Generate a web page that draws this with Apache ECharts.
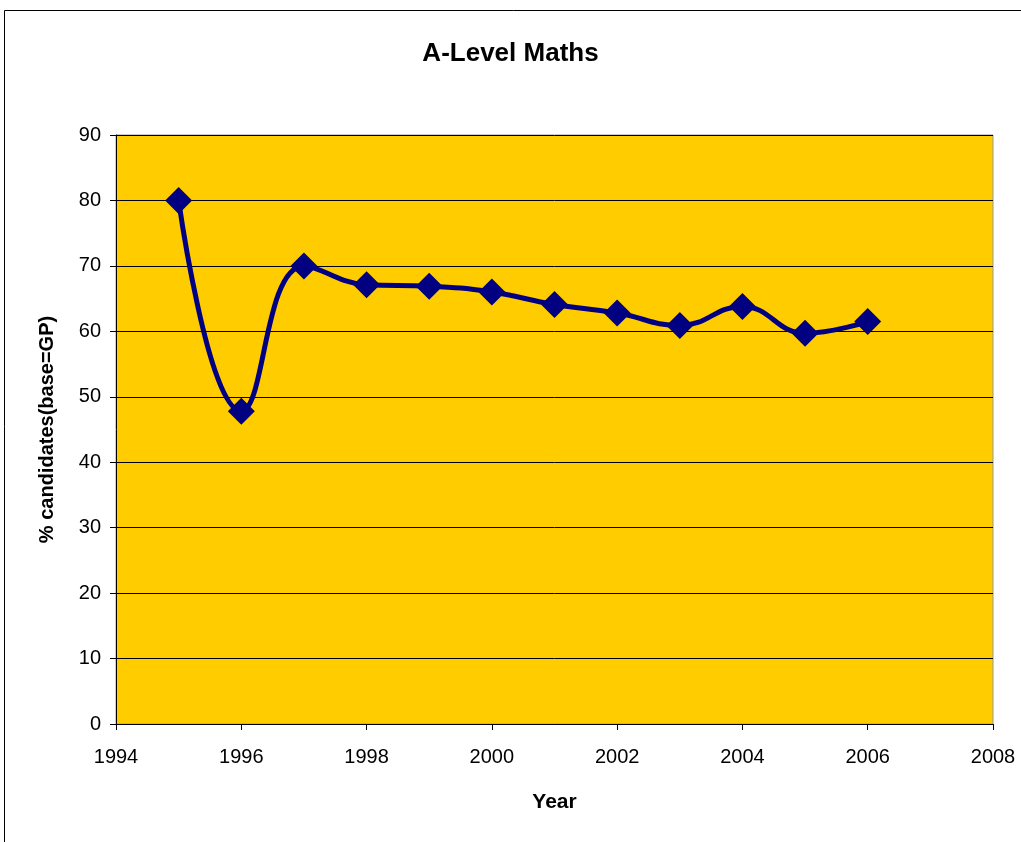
<!DOCTYPE html>
<html>
<head>
<meta charset="utf-8">
<script src="https://cdn.jsdelivr.net/npm/echarts@6/dist/echarts.min.js"></script>
<style>
  html, body { margin: 0; padding: 0; background: #fff; }
  #chart { width: 1021px; height: 842px; }
</style>
</head>
<body>
<div id="chart"></div>
<script>
// years and % of candidates
var years = [1995, 1996, 1997, 1998, 1999, 2000, 2001, 2002, 2003, 2004, 2005, 2006];
var percents = [80, 47.8, 70, 67.1, 66.9, 66, 64.1, 62.8, 60.9, 63.8, 59.7, 61.5];

var fontFamily = '"Liberation Sans", Arial, sans-serif';

var chart = echarts.init(document.getElementById('chart'));

var points = [];
for (var i = 0; i < years.length; i++) {
    points.push([years[i], percents[i]]);
}

var option = {
    animation: false,
    backgroundColor: '#fff',
    // outer frame of the chart area
    graphic: [{
        type: 'rect',
        shape: { x: 4.5, y: 10.5, width: 1100, height: 900 },
        style: { fill: 'none', stroke: '#000', lineWidth: 1 },
        silent: true
    }],
    title: {
        text: 'A-Level Maths',
        left: 'center',
        top: 36,
        textStyle: { fontFamily: fontFamily, fontSize: 26, fontWeight: 'bold', color: '#000' }
    },
    grid: {
        left: 116,
        right: 28,
        top: 135,
        bottom: 118,
        show: true,
        backgroundColor: '#FFCC00',
        borderColor: '#999',
        borderWidth: 1
    },
    xAxis: {
        type: 'value',
        min: 1994,
        max: 2008,
        interval: 2,
        name: 'Year',
        nameLocation: 'middle',
        nameGap: 68,
        nameTextStyle: { fontFamily: fontFamily, fontSize: 21, fontWeight: 'bold', color: '#000' },
        axisLine: { show: true, lineStyle: { color: '#000', width: 1 } },
        axisTick: { show: true, length: 6, lineStyle: { color: '#000' } },
        axisLabel: {
            fontFamily: fontFamily, fontSize: 20, color: '#000', margin: 23,
            formatter: function (v) { return String(v); }
        },
        splitLine: { show: false }
    },
    yAxis: {
        type: 'value',
        min: 0,
        max: 90,
        interval: 10,
        name: '% candidates(base=GP)',
        nameLocation: 'middle',
        nameRotate: 90,
        nameGap: 59,
        nameTextStyle: { fontFamily: fontFamily, fontSize: 20, fontWeight: 'bold', color: '#000' },
        axisLine: { show: true, lineStyle: { color: '#000', width: 1 } },
        axisTick: { show: true, length: 6, lineStyle: { color: '#000' } },
        axisLabel: { fontFamily: fontFamily, fontSize: 20, color: '#000', margin: 15 },
        splitLine: { show: true, lineStyle: { color: '#000', width: 1 } }
    },
    series: [{
        type: 'line',
        data: points,
        smooth: 0.45,
        symbol: 'diamond',
        symbolSize: 27,
        lineStyle: { color: '#000080', width: 5 },
        itemStyle: { color: '#000080' }
    }]
};

chart.setOption(option);
</script>
</body>
</html>
